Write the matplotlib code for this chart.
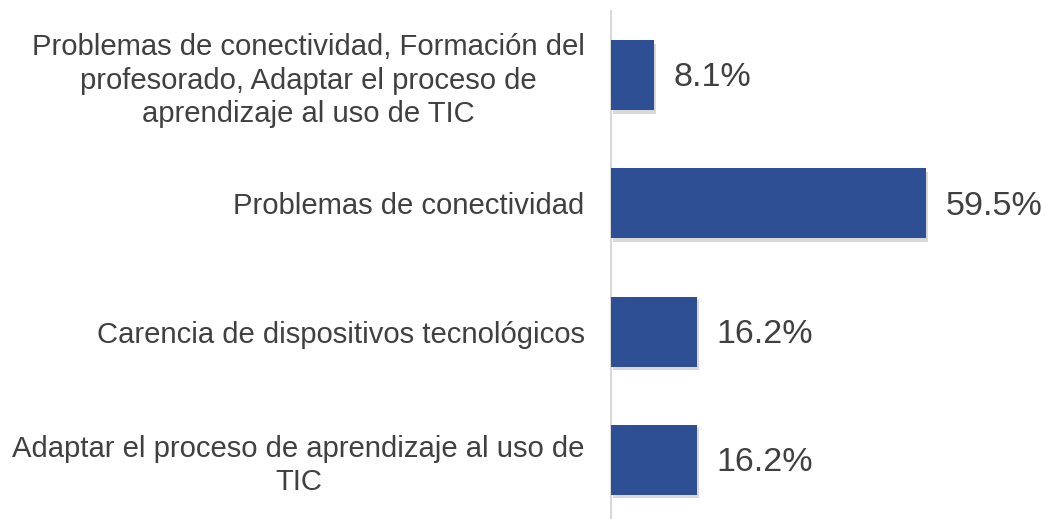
import matplotlib
matplotlib.use("Agg")
import matplotlib.pyplot as plt
import matplotlib.patheffects as pe

categories = [
    "Problemas de conectividad, Formación del\nprofesorado, Adaptar el proceso de\naprendizaje al uso de TIC",
    "Problemas de conectividad",
    "Carencia de dispositivos tecnológicos",
    "Adaptar el proceso de aprendizaje al uso de\nTIC",
]
values = [8.1, 59.5, 16.2, 16.2]
value_labels = ["8.1%", "59.5%", "16.2%", "16.2%"]

plt.rcParams['font.family'] = ['Liberation Sans', 'DejaVu Sans']

fig = plt.figure(figsize=(10.45, 5.19), dpi=100)
ax = fig.add_axes([611/1045, -0.0096, (1045-611)/1045, 0.9884])

ypos = list(range(len(categories)))
bars = ax.barh(ypos, values, height=0.545, color='#2E4F93', zorder=3)
for b in bars:
    b.set_path_effects([pe.SimplePatchShadow(offset=(1.5, -2.5), shadow_rgbFace='#666666', alpha=0.25), pe.Normal()])

ax.set_ylim(len(categories) - 0.5, -0.5)
ax.set_xlim(0, 82)

text_color = '#404040'
for y, v, lab in zip(ypos, values, value_labels):
    ax.annotate(lab, xy=(v, y), xytext=(14, -2), textcoords='offset points',
                ha='left', va='center', fontsize=24.5, color=text_color)

ax.set_yticks(ypos)
ax.set_yticklabels(categories, fontsize=21.1, color=text_color, multialignment='center',
                   linespacing=1.25)
ax.tick_params(axis='y', length=0, pad=19)
ax.set_xticks([])
for s in ['top', 'right', 'bottom']:
    ax.spines[s].set_visible(False)
ax.spines['left'].set_color('#d9d9d9')
ax.spines['left'].set_linewidth(1.5)

fig.savefig('out.png', dpi=100)
